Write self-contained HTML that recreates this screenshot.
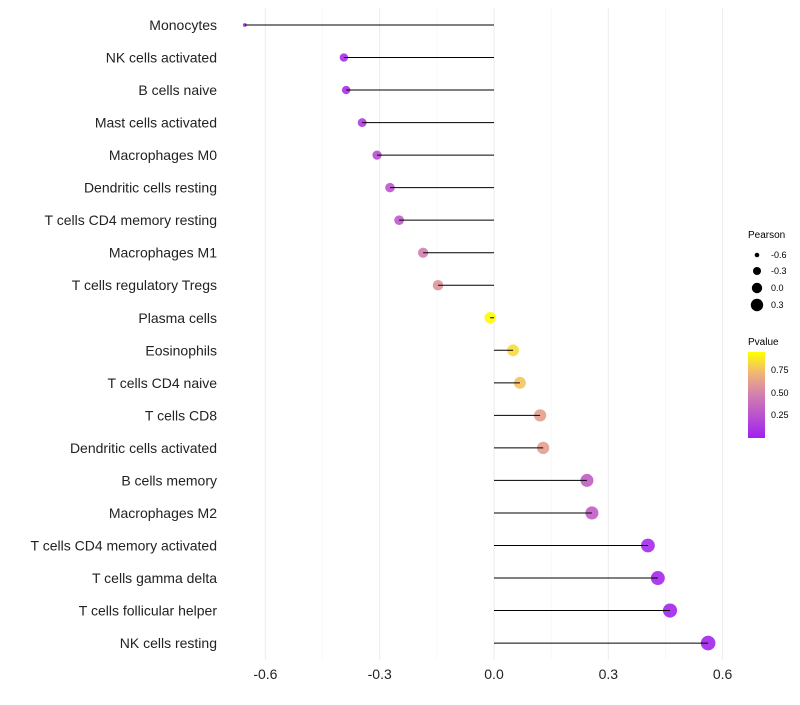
<!DOCTYPE html>
<html><head><meta charset="utf-8"><style>
body{margin:0;background:#fff;font-family:"Liberation Sans",sans-serif}
</style></head><body>
<svg id="chart" width="800" height="700" xmlns="http://www.w3.org/2000/svg" font-family="Liberation Sans, sans-serif">
<defs><linearGradient id="pg" x1="0" y1="1" x2="0" y2="0">
<stop offset="0" stop-color="#a020f0"/><stop offset="0.5" stop-color="#d27fb0"/><stop offset="0.75" stop-color="#f0b478"/><stop offset="1" stop-color="#ffff00"/></linearGradient></defs>
<g id="grid"></g><g id="marks"></g><g id="labels"></g>
<g font-size="9">
<text x="748" y="238" font-size="10">Pearson</text>
<circle cx="757" cy="255" r="2.3" fill="#000"/><text x="771" y="258">-0.6</text>
<circle cx="757" cy="271" r="4" fill="#000"/><text x="771" y="274">-0.3</text>
<circle cx="757" cy="288" r="5.2" fill="#000"/><text x="771" y="291">0.0</text>
<circle cx="757" cy="305" r="6.2" fill="#000"/><text x="771" y="308">0.3</text>
<text x="748" y="345" font-size="10">Pvalue</text>
<rect x="748" y="352" width="17" height="86" fill="url(#pg)"/>
<text x="771" y="373">0.75</text><text x="771" y="396">0.50</text><text x="771" y="418">0.25</text>
</g>
</svg>
<script>
const categories=["Monocytes","NK cells activated","B cells naive","Mast cells activated","Macrophages M0","Dendritic cells resting","T cells CD4 memory resting","Macrophages M1","T cells regulatory  Tregs","Plasma cells","Eosinophils","T cells CD4 naive","T cells CD8","Dendritic cells activated","B cells memory","Macrophages M2","T cells CD4 memory activated","T cells gamma delta","T cells follicular helper","NK cells resting"];
const pearson=[-0.654,-0.394,-0.388,-0.346,-0.307,-0.273,-0.249,-0.186,-0.147,-0.010,0.050,0.068,0.121,0.129,0.244,0.257,0.404,0.430,0.462,0.562];
const pvalue=[0.03,0.06,0.08,0.15,0.24,0.28,0.3,0.5,0.6,0.98,0.88,0.8,0.65,0.64,0.32,0.32,0.05,0.04,0.03,0.03];
const xTicks=[-0.6,-0.3,0.0,0.3,0.6];
const xTickLabels=["-0.6","-0.3","0.0","0.3","0.6"];
const NS="http://www.w3.org/2000/svg";
const x=v=>494+v*381;
const y=i=>25+i*32.53;
const r=v=>1.5+5.8*Math.sqrt(Math.max(0,v+0.66)/1.22);
function col(p){const st=[[0,[160,32,240]],[0.5,[210,127,176]],[0.75,[240,180,120]],[1,[255,255,0]]];
for(let k=1;k<st.length;k++){if(p<=st[k][0]){const a=st[k-1],b=st[k],t=(p-a[0])/(b[0]-a[0]);return `rgb(${a[1].map((c,j)=>Math.round(c+(b[1][j]-c)*t)).join(",")})`;}}return "rgb(255,255,0)";}
function mk(tag,at,parent){const e=document.createElementNS(NS,tag);for(const k in at)e.setAttribute(k,at[k]);parent.appendChild(e);return e;}
const grid=document.getElementById('grid'),marks=document.getElementById('marks'),labels=document.getElementById('labels');
[-0.45,-0.15,0.15,0.45].forEach(v=>{const l=mk('line',{x1:x(v),x2:x(v),y1:8,y2:660,stroke:'#f4f4f4','stroke-width':0.6},grid);

});
xTicks.forEach((v,i)=>{const l=mk('line',{x1:x(v),x2:x(v),y1:8,y2:660,stroke:'#ebebeb','stroke-width':1},grid);


const t=mk('text',{x:x(v),y:679,'text-anchor':'middle','font-size':14,fill:'#222'},labels);t.textContent=xTickLabels[i];

});
categories.forEach((c,i)=>{
const t=mk('text',{x:217,y:y(i)+5,'text-anchor':'end','font-size':14,fill:'#222'},labels);t.textContent=c;


const p=mk('circle',{cx:x(pearson[i]),cy:y(i),r:r(pearson[i]),fill:col(pvalue[i]),'fill-opacity':0.9},marks);


const s=mk('line',{x1:x(0),x2:x(pearson[i]),y1:y(i),y2:y(i),stroke:'#000','stroke-width':1},marks);


});
</script>
</body></html>
